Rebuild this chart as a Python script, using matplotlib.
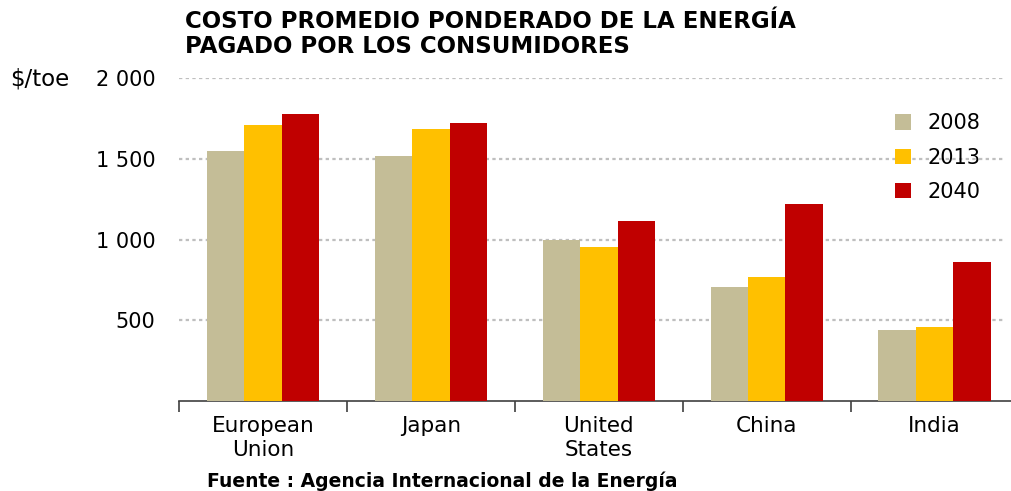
import numpy as np
import matplotlib.pyplot as plt

# Data
regions = ['European\nUnion', 'Japan', 'United\nStates', 'China', 'India']
years = ['2008', '2013', '2040']
cost_2008 = [1550, 1518, 998, 706, 440]
cost_2013 = [1710, 1685, 954, 768, 458]
cost_2040 = [1778, 1722, 1115, 1220, 861]
yticks = [500, 1000, 1500, 2000]
ytick_labels = ['500', '1 000', '1 500', '2 000']

colors = ['#C4BD97', '#FFC000', '#C00000']
series = [cost_2008, cost_2013, cost_2040]

FONT = 'DejaVu Sans'

fig = plt.figure(figsize=(10.11, 4.91), dpi=100)
ax = fig.add_axes([179 / 1011, 1 - 401 / 491, 1 - 179 / 1011, (401 - 78) / 491])

x = np.arange(len(regions))
w = 0.223
for i, (vals, col, yr) in enumerate(zip(series, colors, years)):
    ax.bar(x + (i - 1) * w, vals, width=w, color=col, label=yr, zorder=3)

for v in yticks:
    ax.axhline(v, xmin=0, xmax=0.99, color='#BFBFBF', linestyle=(0, (1.5, 1.5)),
               linewidth=1.6, zorder=1)

for s in ['top', 'right', 'left']:
    ax.spines[s].set_visible(False)
ax.spines['bottom'].set_color('#404040')
ax.spines['bottom'].set_linewidth(1.2)

ax.set_yticks(yticks)
ax.set_yticklabels(ytick_labels, family=FONT, fontsize=15)
ax.tick_params(axis='y', length=0, pad=17)

ax.set_xticks(x)
ax.set_xticklabels(regions, family=FONT, fontsize=15.5, linespacing=1.25)
ax.tick_params(axis='x', which='major', length=0, pad=11)
ax.set_xticks(np.arange(-0.5, 5.0, 1.0), minor=True)
ax.tick_params(axis='x', which='minor', length=8, width=1.2, color='#404040', direction='out')

# limits after ticks so the minor ticks do not widen the view
ax.set_xlim(-0.5, 4.455)
ax.set_ylim(0, 2000)

fig.text(10 / 1011, 1 - 79 / 491, '$/toe', family=FONT, fontsize=16.5, va='center', ha='left')

fig.text(185 / 1011, 1 - 10 / 491,
         'COSTO PROMEDIO PONDERADO DE LA ENERGÍA\nPAGADO POR LOS CONSUMIDORES',
         family=FONT, fontweight='bold', fontsize=16.5, va='top', ha='left',
         linespacing=1.1)

fig.text(207 / 1011, 1 - 481 / 491, 'Fuente : Agencia Internacional de la Energía',
         family=FONT, fontweight='bold', fontsize=13.5, va='center', ha='left')

leg = ax.legend(loc='upper left', bbox_to_anchor=((887 - 179) / 832, 1 - (105 - 78) / 323),
                frameon=False, prop={'family': FONT, 'size': 15},
                handlelength=0.75, handleheight=0.75, labelspacing=0.68, handletextpad=0.8,
                borderaxespad=0)

fig.savefig('out.png', dpi=100)
